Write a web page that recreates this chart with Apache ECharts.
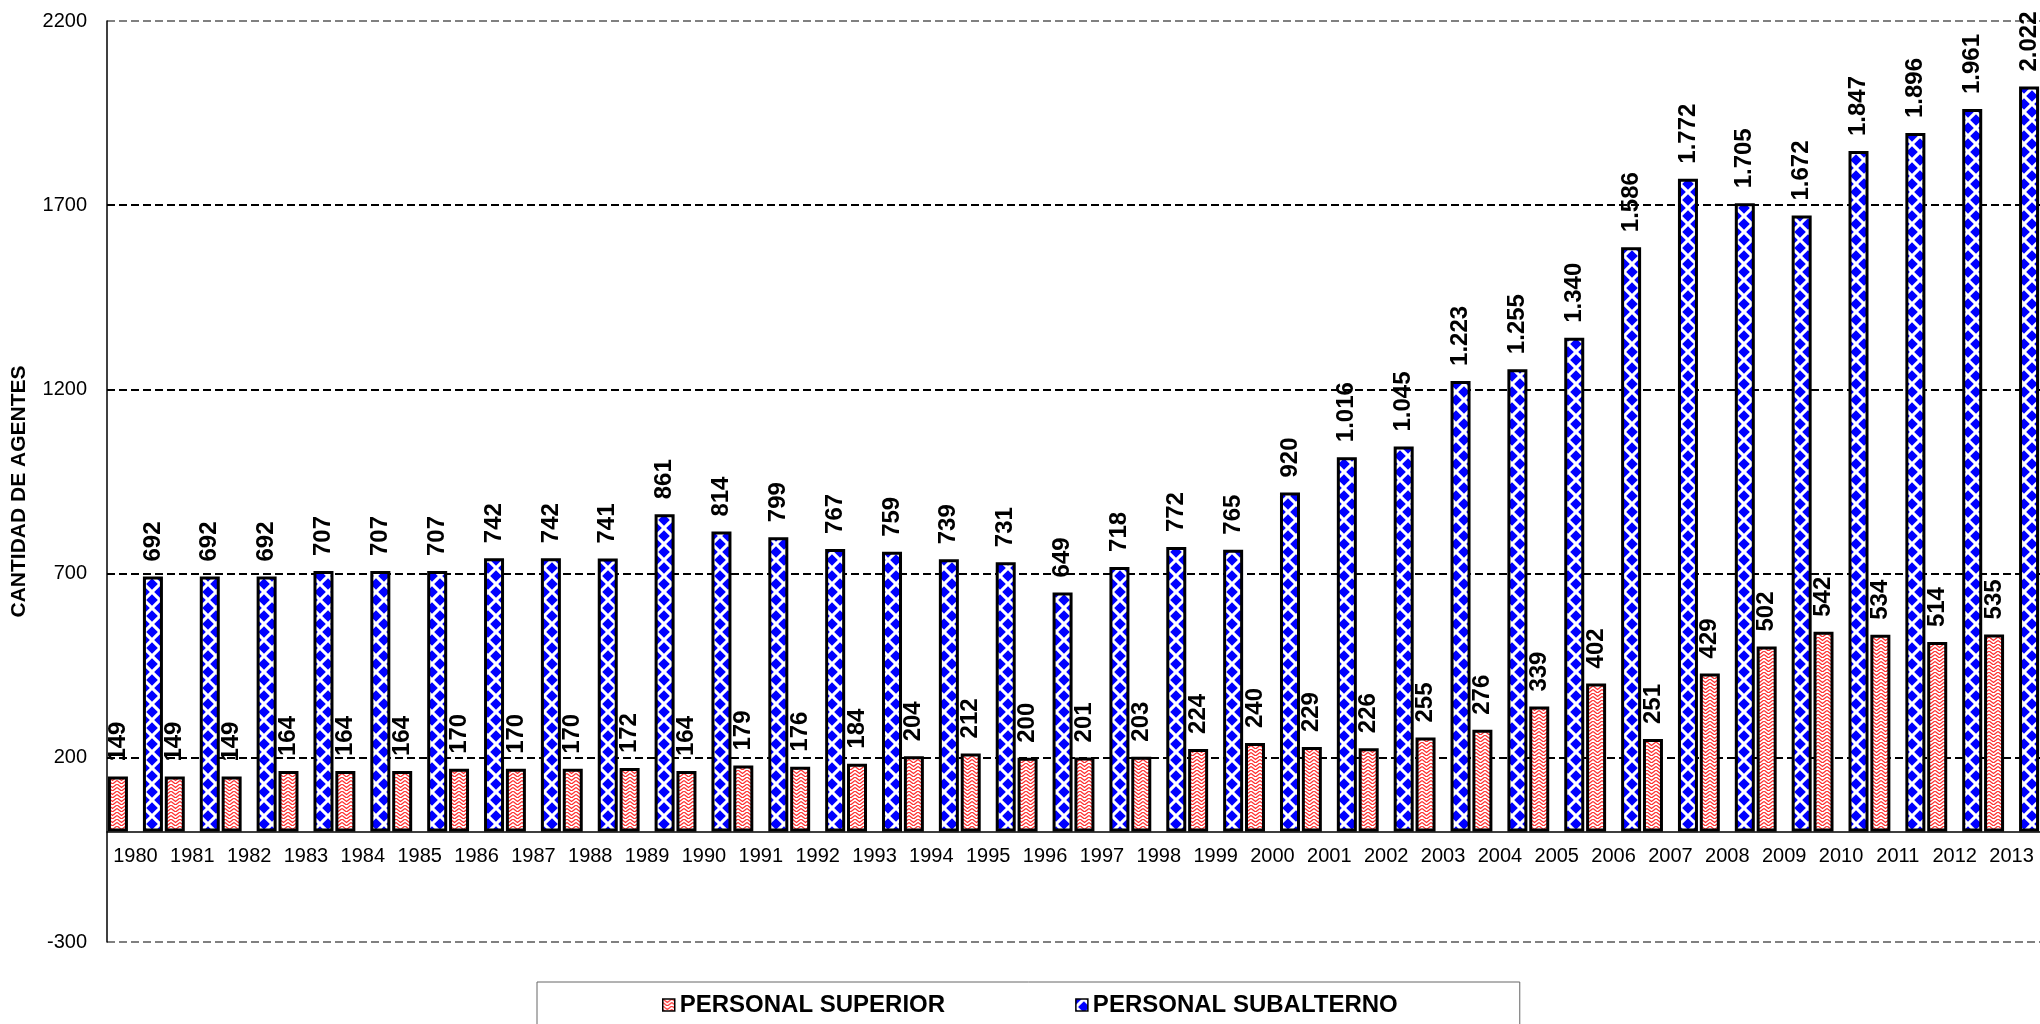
<!DOCTYPE html>
<html>
<head>
<meta charset="utf-8">
<title>Cantidad de agentes</title>
<script src="https://cdn.jsdelivr.net/npm/echarts@6/dist/echarts.min.js"></script>
<style>
  html, body { margin: 0; padding: 0; background: #fff; }
  #chart { width: 2040px; height: 1024px; }
</style>
</head>
<body>
<div id="chart"></div>
<script>
// datos
const years = ['1980', '1981', '1982', '1983', '1984', '1985', '1986', '1987', '1988', '1989',
  '1990', '1991', '1992', '1993', '1994', '1995', '1996', '1997', '1998', '1999',
  '2000', '2001', '2002', '2003', '2004', '2005', '2006', '2007', '2008', '2009',
  '2010', '2011', '2012', '2013']
const superior = [149, 149, 149, 164, 164, 164, 170, 170, 170, 172,
  164, 179, 176, 184, 204, 212, 200, 201, 203, 224,
  240, 229, 226, 255, 276, 339, 402, 251, 429, 502,
  542, 534, 514, 535]
const subalterno = [692, 692, 692, 707, 707, 707, 742, 742, 741, 861,
  814, 799, 767, 759, 739, 731, 649, 718, 772, 765,
  920, 1016, 1045, 1223, 1255, 1340, 1586, 1772, 1705, 1672,
  1847, 1896, 1961, 2022]
const yMin = -300
const yMax = 2200
const yStep = 500

const FONT = '"Liberation Sans", Arial, sans-serif'

// 1016 -> "1.016"
function fmt(v) {
  return String(v).replace(/\B(?=(\d{3})+(?!\d))/g, '.')
}

// trama roja en zigzag
function redPattern() {
  const c = document.createElement('canvas')
  c.width = 9
  c.height = 7
  const ctx = c.getContext('2d')
  ctx.fillStyle = '#fff'
  ctx.fillRect(0, 0, 9, 7)
  ctx.strokeStyle = '#ff3030'
  ctx.lineWidth = 1.3
  ctx.beginPath()
  ctx.moveTo(0, 0); ctx.lineTo(4.5, 3.5); ctx.lineTo(9, 0)
  ctx.moveTo(0, 3.5); ctx.lineTo(4.5, 7); ctx.lineTo(9, 3.5)
  ctx.stroke()
  return c
}

// trama azul de rombos
function bluePattern() {
  const s = 16
  const c = document.createElement('canvas')
  c.width = s
  c.height = s
  const ctx = c.getContext('2d')
  ctx.fillStyle = '#fff'
  ctx.fillRect(0, 0, s, s)
  ctx.fillStyle = '#0000ff'
  const r = 5.8
  ;[[0, 0], [s, 0], [0, s], [s, s], [s / 2, s / 2]].forEach(([x, y]) => {
    ctx.beginPath()
    ctx.moveTo(x, y - r); ctx.lineTo(x + r, y); ctx.lineTo(x, y + r); ctx.lineTo(x - r, y)
    ctx.closePath()
    ctx.fill()
  })
  return c
}

const labelStyle = {
  show: true,
  position: 'top',
  distance: 15,
  rotate: 90,
  align: 'left',
  verticalAlign: 'middle',
  fontFamily: FONT,
  fontSize: 24,
  fontWeight: 'bold',
  color: '#000',
  formatter: (p) => fmt(p.value),
}

const myChart = echarts.init(document.getElementById('chart'), null, { renderer: 'canvas' })

myChart.setOption({
  animation: false,
  backgroundColor: '#fff',
  textStyle: { fontFamily: FONT },
  grid: {
    left: 107,
    top: 21,
    right: -5,
    bottom: 82,
    containLabel: false,
  },
  legend: {
    left: 537,
    top: 982,
    icon: 'rect',
    itemWidth: 12,
    itemHeight: 12,
    itemGap: 130,
    padding: [11, 122, 40, 125],
    borderColor: '#666',
    borderWidth: 1,
    selectedMode: false,
    itemStyle: { borderWidth: 1.5, borderColor: '#000' },
    textStyle: { fontFamily: FONT, fontSize: 24, fontWeight: 'bold', color: '#000' },
  },
  xAxis: {
    type: 'category',
    data: years,
    // el eje se dibuja en el cero (110 px por encima del borde inferior)
    offset: -110,
    axisLine: { onZero: false, lineStyle: { color: '#000', width: 1.5 } },
    axisTick: { show: false },
    axisLabel: { interval: 0, fontSize: 20, color: '#000', margin: 14, fontFamily: FONT },
    splitLine: { show: false },
  },
  yAxis: {
    type: 'value',
    min: yMin,
    max: yMax,
    interval: yStep,
    name: 'CANTIDAD DE AGENTES',
    nameLocation: 'middle',
    nameGap: 77,
    nameTextStyle: { fontFamily: FONT, fontSize: 21, fontWeight: 'bold', color: '#000', padding: [0, 20, 0, 0] },
    axisLine: { show: true, lineStyle: { color: '#000', width: 1.5 } },
    axisTick: { show: false },
    axisLabel: { fontSize: 20, color: '#000', margin: 20, fontFamily: FONT, formatter: (v) => String(v) },
    splitLine: {
      show: true,
      lineStyle: {
        // bordes del area en gris, lineas interiores negras
        color: ['#808080', '#000', '#000', '#000', '#000', '#808080'],
        type: [8, 4],
        width: 2,
      },
    },
  },
  series: [
    {
      name: 'PERSONAL SUPERIOR',
      type: 'bar',
      data: superior,
      barWidth: 20,
      barGap: '75%',
      itemStyle: {
        color: { image: redPattern(), repeat: 'repeat' },
        borderColor: '#000',
        borderWidth: 3,
      },
      label: labelStyle,
    },
    {
      name: 'PERSONAL SUBALTERNO',
      type: 'bar',
      data: subalterno,
      barWidth: 20,
      barGap: '75%',
      itemStyle: {
        color: { image: bluePattern(), repeat: 'repeat' },
        borderColor: '#000',
        borderWidth: 3,
      },
      label: labelStyle,
    },
  ],
})
</script>
</body>
</html>
